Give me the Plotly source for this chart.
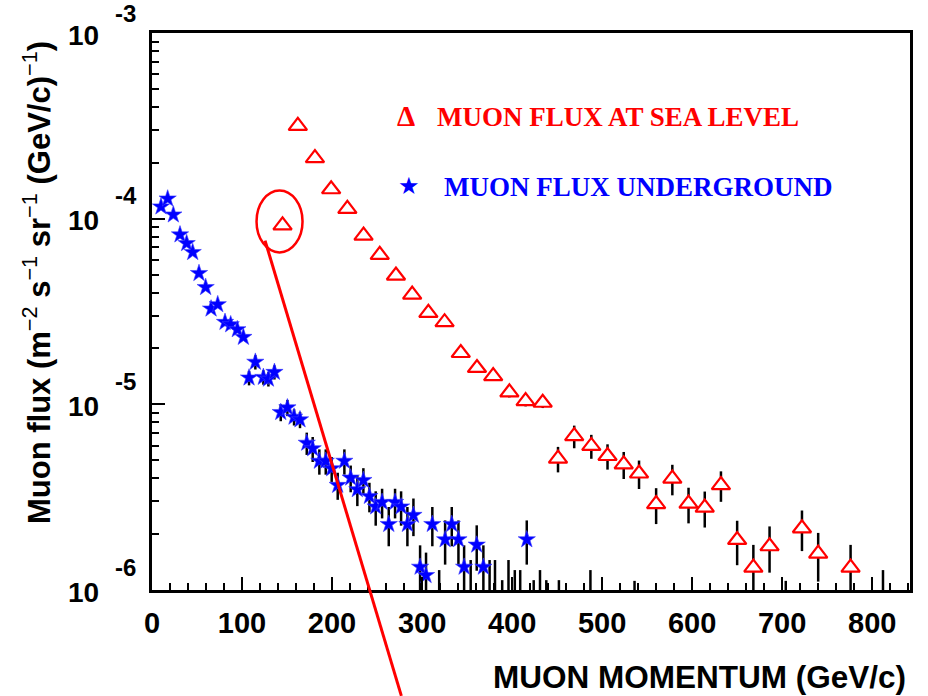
import numpy as np
import plotly.graph_objects as go

# ---------------- data ----------------
sea_p = [162, 181, 199, 217, 235, 253, 271, 289, 307, 325, 343, 361, 379, 397, 415, 434,
         451, 469, 488, 506, 524, 541, 560, 578, 596, 614, 632, 650, 668, 686, 722, 740, 776]
sea_flux = [3.16e-4, 2.12e-4, 1.44e-4, 1.13e-4, 8.1e-5, 6.38e-5, 4.94e-5, 3.90e-5, 3.11e-5,
            2.77e-5, 1.89e-5, 1.57e-5, 1.42e-5, 1.16e-5, 1.04e-5, 1.02e-5,
            5.1e-6, 6.74e-6, 5.97e-6, 5.27e-6, 4.75e-6, 4.24e-6, 2.9e-6, 3.98e-6, 2.92e-6,
            2.78e-6, 3.67e-6, 1.86e-6, 1.32e-6, 1.72e-6, 2.15e-6, 1.57e-6, 1.32e-6]
sea_err = [0, 0, 0, 0, 0, 0, 0, 0, 0, 0, 0, 0, 0, 0.7e-6, 0.65e-6, 0.65e-6,
           0.80e-6, 0.94e-6, 0.88e-6, 0.82e-6, 0.79e-6, 0.74e-6, 0.635e-6, 0.745e-6, 0.635e-6,
           0.61e-6, 0.685e-6, 0.50e-6, 0.43e-6, 0.48e-6, 0.53e-6, 0.46e-6, 0.43e-6]

circled_p = [145]
circled_flux = [9.2e-5]

under_p = [10, 17.4, 23.7, 31.1, 38.5, 45.2, 52.2, 59.6, 65.6, 73, 81.1, 87.4, 94.8, 101.5,
           107.8, 114.8, 123.7, 129.3, 136, 143, 150.4, 157.8, 164.4, 171.9, 178.5, 185.9, 193,
           199.6, 206.3, 213.7, 220.7, 228.1, 234.8, 241.5, 248.5, 255.6, 263, 270, 276.7, 283.7,
           290.4, 297.8, 304.4, 311.4, 325.6, 333, 340.4, 346.7, 360.7, 368.1, 416.3]
under_flux = [1.16e-4, 1.28e-4, 1.05e-4, 8.2e-5, 7.36e-5, 6.59e-5, 5.08e-5, 4.27e-5, 3.27e-5,
              3.45e-5, 2.77e-5, 2.69e-5, 2.53e-5, 2.30e-5, 1.39e-5, 1.69e-5, 1.40e-5, 1.37e-5,
              1.49e-5, 9.06e-6, 9.6e-6, 8.55e-6, 8.27e-6, 6.19e-6, 5.78e-6, 4.95e-6, 4.95e-6,
              4.51e-6, 3.67e-6, 4.95e-6, 4.02e-6, 3.48e-6, 3.90e-6, 3.20e-6, 2.81e-6, 2.97e-6,
              2.26e-6, 2.97e-6, 2.81e-6, 2.26e-6, 2.53e-6, 1.33e-6, 1.20e-6, 2.26e-6, 1.87e-6,
              2.26e-6, 1.87e-6, 1.33e-6, 1.75e-6, 1.33e-6, 1.87e-6]
under_err = [2.3e-6, 2.6e-6, 2.1e-6, 1.6e-6, 1.5e-6, 1.3e-6, 1.0e-6, 0.85e-6, 0.65e-6, 0.7e-6,
             0.55e-6, 0.54e-6, 0.5e-6, 0.46e-6,
             1.25e-6, 1.5e-6, 1.25e-6, 1.23e-6, 1.3e-6,
             0.95e-6, 0.96e-6, 0.86e-6, 0.83e-6,
             0.85e-6, 0.89e-6, 0.77e-6, 0.77e-6, 0.69e-6, 0.61e-6, 0.77e-6, 0.66e-6, 0.65e-6,
             0.63e-6, 0.58e-6, 0.59e-6, 0.54e-6, 0.54e-6, 0.54e-6, 0.59e-6, 0.54e-6, 0.58e-6,
             0.41e-6, 0.39e-6, 0.54e-6, 0.50e-6, 0.54e-6, 0.50e-6, 0.41e-6, 0.48e-6, 0.41e-6,
             0.50e-6]

# underground points below the axis range: only the upper ends of their error bars show
below_p = [319, 354, 375, 381, 389, 396, 403, 409, 424, 431, 438, 452, 487, 536, 704, 812]
below_top = [1.28e-6, 1.45e-6, 1.45e-6, 1.45e-6, 1.13e-6, 1.45e-6, 1.28e-6, 1.28e-6, 1.13e-6,
             1.28e-6, 1.13e-6, 1.13e-6, 1.28e-6, 1.12e-6, 1.12e-6, 1.28e-6]

x_ticks = [0, 100, 200, 300, 400, 500, 600, 700, 800]
y_decades = [-6, -5, -4, -3]

# ---------------- geometry helpers ----------------
W, H = 928, 696
ML, MR, MT, MB = 152, 18, 33, 106
XR = [0, 842]
YR = [-6, -3]
PW, PH = W - ML - MR, H - MT - MB


def px_x(px):
    return (px - ML) / PW


def px_y(py):
    return (H - MB - py) / PH


def dx(x):
    return (x - XR[0]) / (XR[1] - XR[0])


def dy(v):
    return (np.log10(v) - YR[0]) / (YR[1] - YR[0])


BOLD = "Liberation Sans, Arial, Helvetica, sans-serif"
SERIF = "Liberation Serif, Times New Roman, serif"

fig = go.Figure()

# error-bar stubs of points below range
bx, by = [], []
for p, t in zip(below_p, below_top):
    bx += [p, p, None]
    by += [10 ** YR[0], t, None]
fig.add_trace(go.Scatter(x=bx, y=by, mode="lines", line=dict(color="black", width=2.5),
                         hoverinfo="skip", showlegend=False))

fig.add_trace(go.Scatter(
    x=under_p, y=under_flux, mode="markers", showlegend=False,
    error_y=dict(type="data", array=under_err, color="black", thickness=2.5, width=0),
    marker=dict(symbol="star", size=13, color="#0000ff", line=dict(color="#3a3aff", width=0.6))))

fig.add_trace(go.Scatter(
    x=sea_p, y=sea_flux, mode="markers", showlegend=False,
    error_y=dict(type="data", array=sea_err, color="black", thickness=2.5, width=0),
    marker=dict(symbol="triangle-up", size=16, color="white", line=dict(color="#ff0000", width=2.2))))

fig.add_trace(go.Scatter(
    x=circled_p, y=circled_flux, mode="markers", showlegend=False,
    marker=dict(symbol="triangle-up", size=16, color="white", line=dict(color="#ff0000", width=2.2))))

# ellipse around the circled point and pointer line
cx, cy = circled_p[0], circled_flux[0]
shapes = [
    dict(type="circle", xref="paper", yref="paper",
         x0=dx(cx) - 23 / PW - 3 / PW, x1=dx(cx) + 23 / PW - 3 / PW,
         y0=dy(cy) - 31 / PH + 4 / PH, y1=dy(cy) + 31 / PH + 4 / PH,
         line=dict(color="#ff0000", width=2.5)),
    dict(type="line", xref="paper", yref="paper",
         x0=dx(125.6), y0=dy(10 ** -4.118), x1=dx(277), y1=dy(10 ** -6.57),
         line=dict(color="#ff0000", width=3)),
]

annotations = []
# y tick labels: 10 with exponent
for d in y_decades:
    annotations.append(dict(xref="paper", yref="y", x=px_x(101), y=d, text="10",
                            xanchor="right", yanchor="middle", yshift=-2, showarrow=False,
                            font=dict(family=BOLD, size=28, color="black", weight="bold")))
    annotations.append(dict(xref="paper", yref="y", x=px_x(113), y=d, text="%d" % d,
                            xanchor="left", yanchor="middle",
                            yshift=20 if d == YR[1] else 23, showarrow=False,
                            font=dict(family=BOLD, size=24, color="black", weight="bold")))

# axis titles
annotations.append(dict(xref="paper", yref="paper", x=px_x(908), y=px_y(677),
                        text="MUON MOMENTUM (GeV/c)", xanchor="right", yanchor="middle",
                        showarrow=False,
                        font=dict(family=BOLD, size=31.5, color="black", weight="bold")))
sup = lambda s: "<sup><span style='font-weight:normal'>%s</span></sup>" % s
annotations.append(dict(xref="paper", yref="paper", x=px_x(37), y=px_y(283),
                        text="Muon flux (m" + sup("\u22122") + " s" + sup("\u22121") + " sr" +
                             sup("\u22121") + " (GeV/c)" + sup("\u22121") + ")",
                        textangle=-90, xanchor="center", yanchor="middle", showarrow=False,
                        font=dict(family=BOLD, size=31, color="black", weight="bold")))

# legend
annotations.append(dict(xref="paper", yref="paper", x=px_x(406), y=px_y(116), text="\u0394",
                        showarrow=False, xanchor="center", yanchor="middle",
                        font=dict(family=SERIF, size=29, color="#ff0000", weight="bold")))
annotations.append(dict(xref="paper", yref="paper", x=px_x(435), y=px_y(117),
                        text="MUON FLUX AT SEA LEVEL", showarrow=False, xanchor="left",
                        yanchor="middle",
                        font=dict(family=SERIF, size=27, color="#ff0000", weight="bold")))
annotations.append(dict(xref="paper", yref="paper", x=px_x(409), y=px_y(186), text="\u2605",
                        showarrow=False, xanchor="center", yanchor="middle",
                        font=dict(family="DejaVu Sans", size=24, color="#0000ff")))
annotations.append(dict(xref="paper", yref="paper", x=px_x(442), y=px_y(187),
                        text="MUON FLUX UNDERGROUND", showarrow=False, xanchor="left",
                        yanchor="middle",
                        font=dict(family=SERIF, size=27, color="#0000ff", weight="bold")))

minor_y = [k * 10.0 ** d for d in y_decades[:-1] for k in range(2, 10)]

fig.update_layout(
    width=W, height=H, margin=dict(l=ML, r=MR, t=MT, b=MB, autoexpand=False),
    paper_bgcolor="white", plot_bgcolor="white", showlegend=False,
    shapes=shapes, annotations=annotations,
    xaxis=dict(range=XR, showgrid=False, zeroline=False, showline=True, linecolor="black",
               linewidth=2.5, mirror=True, ticks="inside", ticklen=13, tickwidth=2,
               tickcolor="black", tickvals=x_ticks, ticktext=[str(t) for t in x_ticks],
               tickfont=dict(family=BOLD, size=29, color="black", weight="bold"),
               ticklabelstandoff=5,
               minor=dict(ticks="inside", ticklen=7, tickwidth=2, tickcolor="black",
                          tick0=0, dtick=20, showgrid=False)),
    yaxis=dict(type="log", range=YR, showgrid=False, zeroline=False, showline=True,
               linecolor="black", linewidth=2.5, mirror=True, ticks="inside", ticklen=13,
               tickwidth=2, tickcolor="black", tickvals=[10.0 ** d for d in y_decades],
               showticklabels=False,
               minor=dict(ticks="inside", ticklen=7, tickwidth=2, tickcolor="black",
                          tickvals=minor_y, showgrid=False)),
)

fig.write_html("out.html")
